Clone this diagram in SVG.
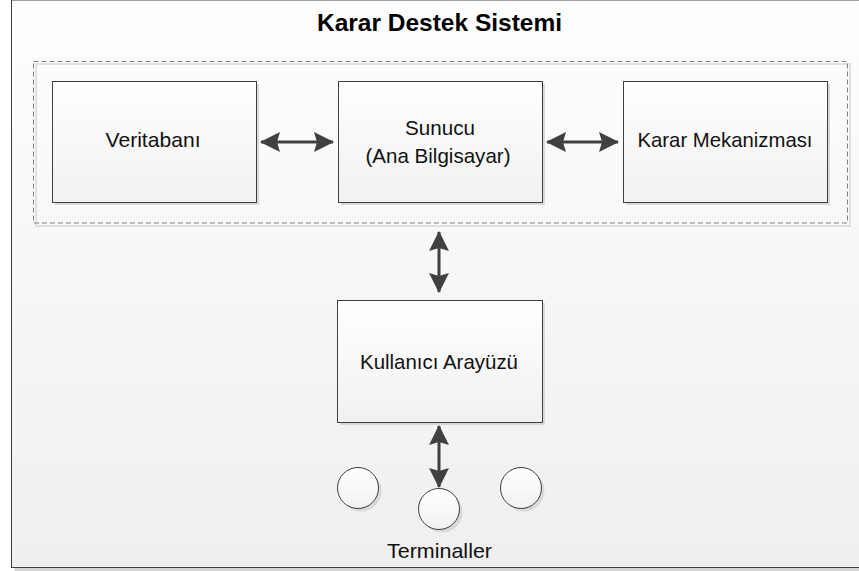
<svg xmlns="http://www.w3.org/2000/svg" width="859" height="571" viewBox="0 0 859 571">
<defs>
<linearGradient id="bg" x1="0" y1="0" x2="0" y2="1">
<stop offset="0" stop-color="#fefefe"/>
<stop offset="1" stop-color="#efefef"/>
</linearGradient>
<linearGradient id="boxfill" x1="0" y1="0" x2="0" y2="1">
<stop offset="0" stop-color="#ffffff"/>
<stop offset="1" stop-color="#f1f1f1"/>
</linearGradient>
<marker id="ah" viewBox="0 0 20 20" refX="19" refY="10" markerWidth="20" markerHeight="20" markerUnits="userSpaceOnUse" orient="auto-start-reverse">
<path d="M0,0 L20,10 L0,20 L3,10 Z" fill="#404040"/>
</marker>
<style>
.box{fill:url(#boxfill);stroke:#3f3f3f;stroke-width:1}
.shadow{fill:#d9d9d9}
.lbl{font-family:"Liberation Sans",Arial,sans-serif;font-size:21px;fill:#111;text-anchor:middle}
.title{font-family:"Liberation Sans",Arial,sans-serif;font-size:24px;font-weight:bold;fill:#000;text-anchor:middle}
.conn{stroke:#404040;stroke-width:3;fill:none;marker-start:url(#ah);marker-end:url(#ah)}
.term{fill:url(#boxfill);stroke:#3f3f3f;stroke-width:1}
</style>
</defs>
<g id="frame">
<rect x="14.5" y="3" width="860" height="568" fill="#d6d6d6"/>
<rect x="11.5" y="0" width="860" height="567.5" fill="url(#bg)" stroke="#404040" stroke-width="1"/>
<text class="title" x="439.5" y="31" textLength="245" lengthAdjust="spacingAndGlyphs">Karar Destek Sistemi</text>
</g>
<g id="group">
<rect x="36" y="64" width="814" height="162" fill="none" stroke="#e0e0e0" stroke-width="2"/>
<rect x="33.5" y="61.5" width="814" height="161.5" fill="none" stroke="#808080" stroke-width="1" stroke-dasharray="5,3"/>
</g>
<g id="veritabani">
<rect class="shadow" x="55" y="84" width="204" height="121"/>
<rect class="box" x="52.5" y="81.5" width="204" height="121"/>
<text class="lbl" x="153" y="147" textLength="95" lengthAdjust="spacingAndGlyphs">Veritabanı</text>
</g>
<g id="sunucu">
<rect class="shadow" x="341" y="84" width="204" height="121"/>
<rect class="box" x="338.5" y="81.5" width="204" height="121"/>
<text class="lbl" x="440" y="135" textLength="70" lengthAdjust="spacingAndGlyphs">Sunucu</text>
<text class="lbl" x="438" y="163" textLength="145" lengthAdjust="spacingAndGlyphs">(Ana Bilgisayar)</text>
</g>
<g id="karar">
<rect class="shadow" x="626" y="84" width="204" height="121"/>
<rect class="box" x="623.5" y="81.5" width="204" height="121"/>
<text class="lbl" x="725" y="147" textLength="175" lengthAdjust="spacingAndGlyphs">Karar Mekanizması</text>
</g>
<g id="kullanici">
<rect class="shadow" x="340" y="303" width="205" height="122"/>
<rect class="box" x="337.5" y="300.5" width="205" height="122"/>
<text class="lbl" x="439" y="369" textLength="158" lengthAdjust="spacingAndGlyphs">Kullanıcı Arayüzü</text>
</g>
<g id="terminaller">
<circle cx="361" cy="491" r="20.5" fill="#d9d9d9"/>
<circle class="term" cx="358" cy="488" r="20.5"/>
<circle cx="442" cy="512" r="20.5" fill="#d9d9d9"/>
<circle class="term" cx="439" cy="509" r="20.5"/>
<circle cx="524" cy="491" r="20.5" fill="#d9d9d9"/>
<circle class="term" cx="521" cy="488" r="20.5"/>
<text class="lbl" x="439.5" y="558" textLength="105" lengthAdjust="spacingAndGlyphs">Terminaller</text>
</g>
<g id="connectors">
<line class="conn" x1="261" y1="142" x2="333" y2="142"/>
<line class="conn" x1="547" y1="142" x2="618" y2="142"/>
<line class="conn" x1="439" y1="232" x2="439" y2="292"/>
<line class="conn" x1="439" y1="426" x2="439" y2="487"/>
</g>
</svg>
